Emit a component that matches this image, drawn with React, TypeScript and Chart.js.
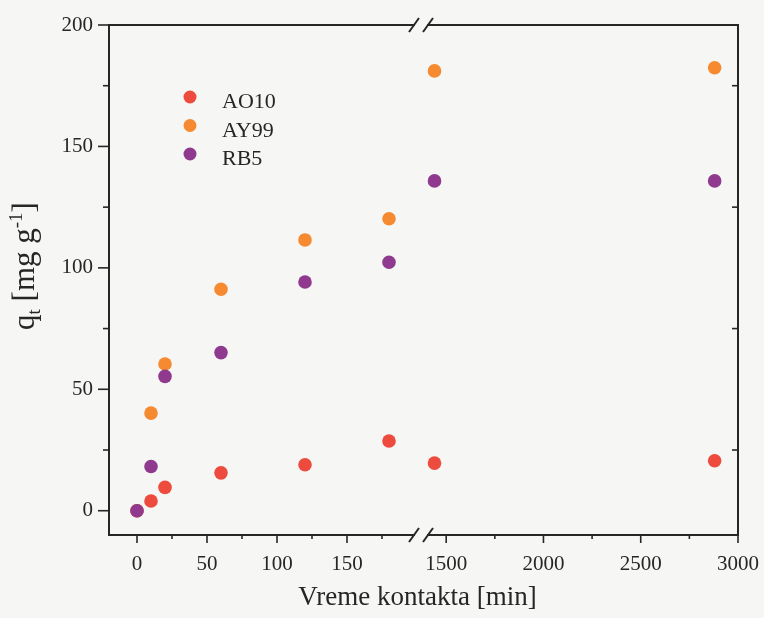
import React, { useEffect, useRef } from 'react';
import { Chart, registerables } from 'chart.js';

Chart.register(...registerables);

// ---- data ----
const TIMES = [0, 10, 20, 60, 120, 180, 1440, 2880];
const AO10 = [0, 4.0, 9.6, 15.6, 18.9, 28.7, 19.6, 20.6];
const AY99 = [0, 40.2, 60.4, 91.2, 111.5, 120.2, 181.1, 182.4];
const RB5 = [0, 18.2, 55.3, 65.1, 94.2, 102.3, 135.8, 135.8];
const SERIES_NAMES = ['AO10', 'AY99', 'RB5'];
const SERIES_COLORS = ['#ec4b3d', '#f58a31', '#8f3a8f'];

// ---- axes ----
const X1_RANGE = [-20, 200];
const X2_RANGE = [1350, 3000];
const Y_RANGE = [-10, 200];
const X1_MAJOR = [0, 50, 100, 150];
const X1_MINOR = [25, 75, 125, 175];
const X2_MAJOR = [1500, 2000, 2500, 3000];
const X2_MINOR = [1750, 2250, 2750];
const Y_MAJOR = [0, 50, 100, 150, 200];
const Y_MINOR = [25, 75, 125, 175];
const X_TITLE = 'Vreme kontakta [min]';
const Y_TITLE_PARTS: [string, string][] = [
  ['q', 'n'],
  ['t', 'sub'],
  [' [mg g', 'n'],
  ['-1', 'sup'],
  [']', 'n'],
];

const FONT = "'Liberation Serif', 'Times New Roman', serif";
const BG = '#f6f6f5';
const INK = '#262626';

export default function App() {
  const ref = useRef<HTMLCanvasElement>(null);

  useEffect(() => {
    const canvas = ref.current!;
    const pts = (vals: number[]) => TIMES.map((t, i) => ({ x: t, y: vals[i] }));
    const seriesVals = [AO10, AY99, RB5];

    const datasets: any[] = [];
    // draw order: index 0 on top -> RB5 first
    [2, 1, 0].forEach((si) => {
      const all = pts(seriesVals[si]);
      const common = {
        label: SERIES_NAMES[si],
        backgroundColor: SERIES_COLORS[si],
        borderColor: SERIES_COLORS[si],
        pointRadius: 6.8,
        pointBorderWidth: 0,
        showLine: false,
        yAxisID: 'y',
      };
      datasets.push({ ...common, data: all.filter((p) => p.x <= X1_RANGE[1]), xAxisID: 'x1' });
      datasets.push({ ...common, data: all.filter((p) => p.x >= X2_RANGE[0]), xAxisID: 'x2' });
    });

    const tickFont = { family: FONT, size: 21 };

    const bgPlugin = {
      id: 'bg',
      beforeDraw(chart: any) {
        const c = chart.ctx;
        c.save();
        c.fillStyle = BG;
        c.fillRect(0, 0, chart.width, chart.height);
        c.restore();
      },
    };

    const framePlugin = {
      id: 'frame',
      afterDraw(chart: any) {
        const c = chart.ctx as CanvasRenderingContext2D;
        const a = chart.chartArea;
        const y = chart.scales.y;
        const x1 = chart.scales.x1;
        const x2 = chart.scales.x2;
        c.save();
        c.strokeStyle = INK;
        c.lineWidth = 2;
        c.strokeRect(a.left, a.top, a.right - a.left, a.bottom - a.top);

        const line = (xa: number, ya: number, xb: number, yb: number) => {
          c.beginPath();
          c.moveTo(xa, ya);
          c.lineTo(xb, yb);
          c.stroke();
        };
        c.lineWidth = 1.6;
        // y ticks
        Y_MAJOR.forEach((v) => {
          const p = y.getPixelForValue(v);
          line(a.left - 11, p, a.left, p);
        });
        Y_MINOR.forEach((v) => {
          const p = y.getPixelForValue(v);
          line(a.left - 6, p, a.left, p);
          line(a.right - 6, p, a.right, p);
        });
        // x ticks
        X1_MAJOR.forEach((v) => {
          const p = x1.getPixelForValue(v);
          line(p, a.bottom, p, a.bottom + 8);
        });
        X1_MINOR.forEach((v) => {
          const p = x1.getPixelForValue(v);
          line(p, a.bottom, p, a.bottom + 4);
        });
        X2_MAJOR.forEach((v) => {
          const p = x2.getPixelForValue(v);
          line(p, a.bottom, p, a.bottom + 8);
        });
        X2_MINOR.forEach((v) => {
          const p = x2.getPixelForValue(v);
          line(p, a.bottom, p, a.bottom + 4);
        });

        // axis breaks
        const bx = (x1.right + x2.left) / 2 + 4;
        [a.top, a.bottom].forEach((by) => {
          c.fillStyle = BG;
          c.fillRect(bx - 6, by - 2, 12, 4);
          c.strokeStyle = INK;
          c.lineWidth = 2;
          line(bx - 12, by + 7, bx - 2, by - 7);
          line(bx + 2, by + 7, bx + 12, by - 7);
        });

        // x title
        c.fillStyle = INK;
        c.font = `27px ${FONT}`;
        c.textAlign = 'center';
        c.textBaseline = 'alphabetic';
        c.fillText(X_TITLE, (a.left + a.right) / 2 - 6, 605);

        // y title with sub/superscript
        c.save();
        c.translate(34, 266);
        c.rotate(-Math.PI / 2);
        c.textAlign = 'left';
        const fontFor = (k: string) => (k === 'n' ? `31px ${FONT}` : `19px ${FONT}`);
        let total = 0;
        Y_TITLE_PARTS.forEach(([t, k]) => {
          c.font = fontFor(k);
          total += c.measureText(t).width;
        });
        let cx = -total / 2;
        Y_TITLE_PARTS.forEach(([t, k]) => {
          c.font = fontFor(k);
          const dy = k === 'sub' ? 6 : k === 'sup' ? -12 : 0;
          c.fillText(t, cx, dy);
          cx += c.measureText(t).width;
        });
        c.restore();

        // legend
        const lx = a.left + 81;
        const ly = a.top + 72;
        SERIES_NAMES.forEach((name, i) => {
          const yy = ly + i * 28.5;
          c.fillStyle = SERIES_COLORS[i];
          c.beginPath();
          c.arc(lx, yy, 6.5, 0, Math.PI * 2);
          c.fill();
          c.fillStyle = INK;
          c.font = `22px ${FONT}`;
          c.textAlign = 'left';
          c.textBaseline = 'alphabetic';
          c.fillText(name, lx + 32, yy + 11);
        });
        c.restore();
      },
    };

    const fitX = (s: any) => {
      s.height = 83;
      s.paddingLeft = 0;
      s.paddingRight = 0;
    };

    const chart = new Chart(canvas, {
      type: 'scatter',
      data: { datasets },
      plugins: [bgPlugin, framePlugin],
      options: {
        animation: false,
        responsive: false,
        layout: { padding: { top: 25, right: 26, left: 0, bottom: 0 } },
        plugins: { legend: { display: false }, tooltip: { enabled: false } },
        scales: {
          x1: {
            type: 'linear',
            axis: 'x',
            position: 'bottom',
            stack: 'xb',
            stackWeight: 308,
            min: X1_RANGE[0],
            max: X1_RANGE[1],
            afterBuildTicks: (s: any) => {
              s.ticks = X1_MAJOR.map((v) => ({ value: v }));
            },
            afterFit: fitX,
            ticks: { autoSkip: false, maxRotation: 0, padding: 9, color: INK, font: tickFont, callback: (v: any) => String(v) },
            grid: { display: false, drawTicks: true, tickLength: 8 },
            border: { display: false },
          },
          x2: {
            type: 'linear',
            axis: 'x',
            position: 'bottom',
            stack: 'xb',
            stackWeight: 321,
            min: X2_RANGE[0],
            max: X2_RANGE[1],
            afterBuildTicks: (s: any) => {
              s.ticks = X2_MAJOR.map((v) => ({ value: v }));
            },
            afterFit: fitX,
            ticks: { autoSkip: false, maxRotation: 0, padding: 9, color: INK, font: tickFont, callback: (v: any) => String(v) },
            grid: { display: false, drawTicks: true, tickLength: 8 },
            border: { display: false },
          },
          y: {
            type: 'linear',
            position: 'left',
            min: Y_RANGE[0],
            max: Y_RANGE[1],
            afterBuildTicks: (s: any) => {
              s.ticks = Y_MAJOR.map((v) => ({ value: v }));
            },
            afterFit: (s: any) => {
              s.width = 109;
              s.paddingTop = 0;
              s.paddingBottom = 0;
            },
            ticks: { autoSkip: false, padding: 5, color: INK, font: tickFont, callback: (v: any) => String(v) },
            grid: { display: false, drawTicks: true, tickLength: 11 },
            border: { display: false },
          },
        },
      } as any,
    });
    return () => chart.destroy();
  }, []);

  return (
    <canvas
      ref={ref}
      width={764}
      height={618}
      style={{ position: 'absolute', left: 0, top: 0, display: 'block' }}
    />
  );
}
